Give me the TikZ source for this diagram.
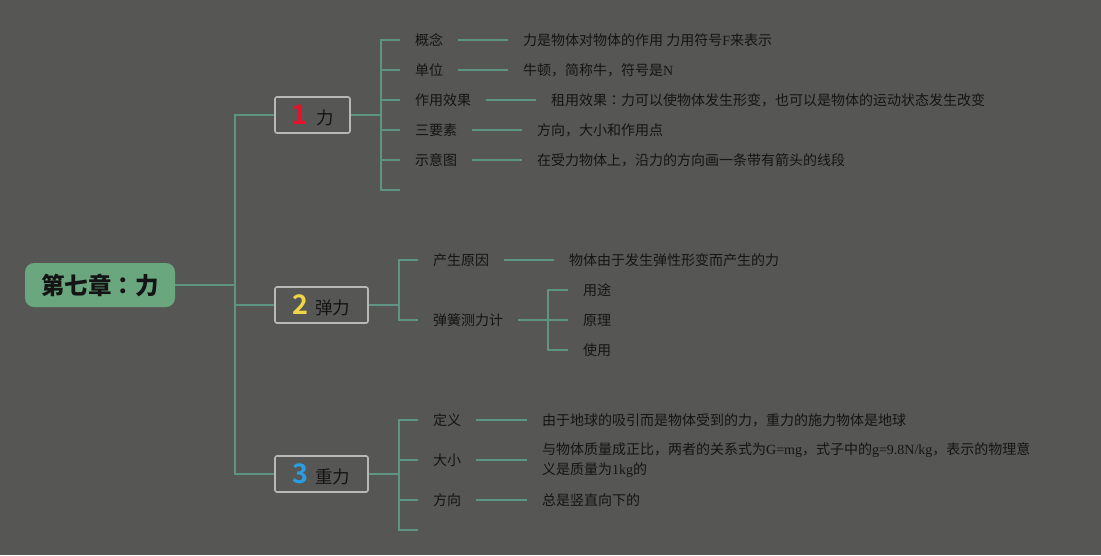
\documentclass[tikz,border=0pt]{standalone}
\usepackage{fontspec}
\setmainfont{Noto Sans CJK SC}
\newfontfamily\lat{Liberation Serif}
\newfontfamily\numfont{Noto Sans CJK SC Bold}
\newfontfamily\tcfont{Noto Sans CJK TC}
\newcommand{\fwcolon}{{\tcfont ：}}
\definecolor{bg}{HTML}{565754}
\definecolor{lc}{HTML}{5E9483}
\definecolor{boxc}{HTML}{B8B8B8}
\definecolor{rootc}{HTML}{6AA67E}
\definecolor{tx}{HTML}{141414}
\definecolor{nred}{HTML}{E3132C}
\definecolor{nyel}{HTML}{F0D548}
\definecolor{nblu}{HTML}{2B9DE3}
\newcommand{\bignum}[2]{{\numfont\fontsize{27}{28}\selectfont\color{#1}#2}}
\begin{document}
\begin{tikzpicture}[x=1pt,y=-1pt,
  lbl/.style={anchor=west,inner sep=0pt,font=\fontsize{14}{20}\selectfont,text=tx,align=left},
  conn/.style={draw=lc,line width=1.6pt},
  topic/.style={draw=boxc,line width=1.6pt,rounded corners=2pt,minimum height=36pt,inner sep=0pt,font=\fontsize{17.5}{20}\selectfont,text=tx},
  rootbox/.style={fill=rootc,rounded corners=9pt,minimum width=150pt,minimum height=44pt,inner sep=0pt,font=\fontsize{23.5}{26}\selectfont\bfseries,text=tx}]
\fill[bg] (0,0) rectangle (1101,555);
\useasboundingbox (0,0) rectangle (1101,555);

% root and topics
\node[rootbox] (root) at (100,285) {第七章{\tcfont\bfseries ：}力};
\node[topic,minimum width=75pt] (t1) at (312.5,115) {\bignum{nred}{1}\hspace{9pt}力};
\node[topic,minimum width=93pt] (t2) at (321.5,305) {\bignum{nyel}{2}\hspace{7pt}弹力};
\node[topic,minimum width=93pt] (t3) at (321.5,474) {\bignum{nblu}{3}\hspace{7pt}重力};

\coordinate (j0) at (235,285);
\draw[conn] (root.east) -- (j0) |- (t1.west);
\draw[conn] (j0) |- (t2.west);
\draw[conn] (j0) |- (t3.west);

% group 1
\coordinate (j1) at ([xshift=30pt]t1.east);
\node[lbl] (a1) at (415,40) {概念};
\node[lbl] (a2) at (415,70) {单位};
\node[lbl] (a3) at (415,100) {作用效果};
\node[lbl] (a4) at (415,130) {三要素};
\node[lbl] (a5) at (415,160) {示意图};
\coordinate (a6) at (400,190);
\node[lbl] (d1) at (523,40) {力是物体对物体的作用 力用符号{\lat F}来表示};
\node[lbl] (d2) at (523,70) {牛顿，简称牛，符号是{\lat N}};
\node[lbl] (d3) at (551,100) {租用效果\fwcolon 力可以使物体发生形变，也可以是物体的运动状态发生改变};
\node[lbl] (d4) at (537,130) {方向，大小和作用点};
\node[lbl] (d5) at (537,160) {在受力物体上，沿力的方向画一条带有箭头的线段};
\draw[conn] (t1.east) -- (j1);
\foreach \i in {1,...,5}{
  \draw[conn] (j1) |- ([xshift=-15pt]a\i.west);
  \draw[conn] ([xshift=15pt]a\i.east) -- ([xshift=-15pt]d\i.west);
}
\draw[conn] (j1) |- (a6);

% group 2
\coordinate (j2) at ([xshift=30pt]t2.east);
\node[lbl] (b1) at (433,260) {产生原因};
\node[lbl] (b2) at (433,320) {弹簧测力计};
\node[lbl] (e1) at (569,260) {物体由于发生弹性形变而产生的力};
\coordinate (j3) at (548,320);
\node[lbl] (c1) at (583,290) {用途};
\node[lbl] (c2) at (583,320) {原理};
\node[lbl] (c3) at (583,350) {使用};
\draw[conn] (t2.east) -- (j2);
\draw[conn] (j2) |- ([xshift=-15pt]b1.west);
\draw[conn] (j2) |- ([xshift=-15pt]b2.west);
\draw[conn] ([xshift=15pt]b1.east) -- ([xshift=-15pt]e1.west);
\draw[conn] ([xshift=15pt]b2.east) -- (j3);
\foreach \i in {1,2,3}{
  \draw[conn] (j3) |- ([xshift=-15pt]c\i.west);
}

% group 3
\coordinate (j4) at ([xshift=30pt]t3.east);
\node[lbl] (g1) at (433,420) {定义};
\node[lbl] (g2) at (433,460) {大小};
\node[lbl] (g3) at (433,500) {方向};
\coordinate (g4) at (418,530);
\node[lbl] (h1) at (542,420) {由于地球的吸引而是物体受到的力，重力的施力物体是地球};
\node[lbl] (h2) at (542,460) {与物体质量成正比，两者的关系式为{\lat G=mg}，式子中的{\lat g=9.8N/kg}，表示的物理意\\义是质量为{\lat 1kg}的};
\node[lbl] (h3) at (542,500) {总是竖直向下的};
\draw[conn] (t3.east) -- (j4);
\foreach \i in {1,2,3}{
  \draw[conn] (j4) |- ([xshift=-15pt]g\i.west);
  \draw[conn] ([xshift=15pt]g\i.east) -- ([xshift=-15pt]h\i.west);
}
\draw[conn] (j4) |- (g4);
\end{tikzpicture}
\end{document}
